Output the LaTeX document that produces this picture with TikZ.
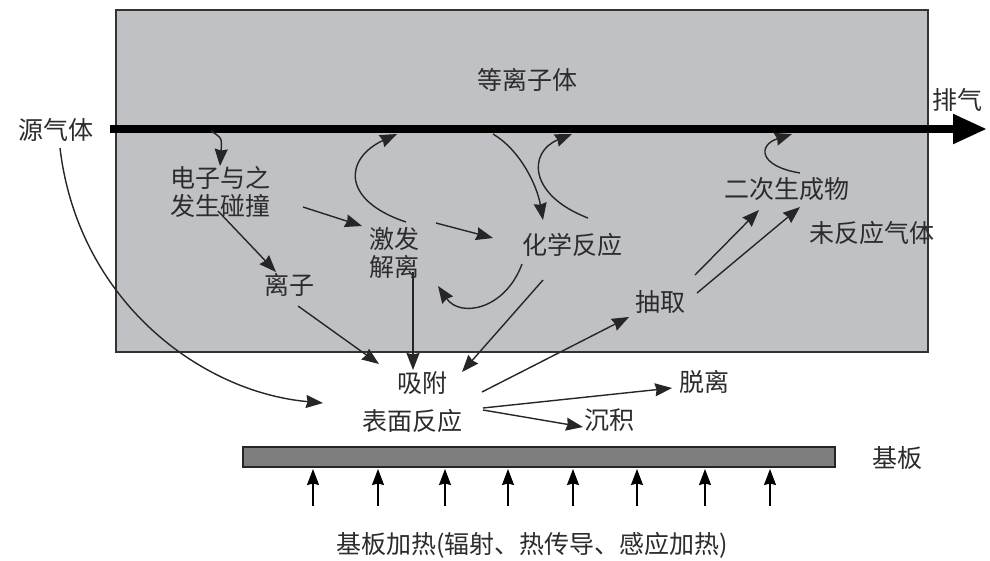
\documentclass[tikz,border=0pt]{standalone}
\usepackage{fontspec}
\setmainfont{Noto Sans CJK SC}
\usetikzlibrary{arrows.meta}
\definecolor{txt}{HTML}{2C2C2C}
\definecolor{chamberfill}{HTML}{C0C1C5}
\definecolor{subfill}{HTML}{7E7E7E}
\begin{document}
\begin{tikzpicture}[x=1pt,y=-1pt,
 lbl/.style={text=txt,inner sep=0pt,font=\fontsize{25}{28}\selectfont,align=center},
 arr/.style={line width=1.4pt,draw=black!85,-{Stealth[length=17pt,width=13pt,inset=1.5pt]}},
 flow/.style={line width=8pt,draw=black,-{Triangle[length=34pt,width=28pt]}},
 heatarr/.style={line width=1.4pt,draw=black,-{Stealth[length=16pt,width=12pt,inset=1.5pt]}}]
\path[use as bounding box] (0,0) rectangle (990,560);
\fill[white] (0,0) rectangle (990,560);
% chamber
\draw[line width=1.2pt,draw=black!80,fill=chamberfill] (116,10) rectangle (928,352);
% substrate
\draw[line width=1.2pt,draw=black!85,fill=subfill] (243,447) rectangle (835,467);

% labels
\node[lbl] (plasma) at (527,80) {等离子体};
\node[lbl] (src) at (56,130) {源气体};
\node[lbl] (exh) at (957,100) {排气};
\node[lbl] (coll) at (220,192) {电子与之\\发生碰撞};
\node[lbl] (ion) at (289,285) {离子};
\node[lbl] (exc) at (394,253) {激发\\解离};
\node[lbl] (chem) at (572,245) {化学反应};
\node[lbl] (sec) at (787,189) {二次生成物};
\node[lbl] (unr) at (872,233) {未反应气体};
\node[lbl] (extr) at (660,302) {抽取};
\node[lbl] (ads) at (422,383) {吸附};
\node[lbl] (surf) at (412,421) {表面反应};
\node[lbl] (des) at (704,382) {脱离};
\node[lbl] (dep) at (609,420) {沉积};
\node[lbl] (sub) at (897,458) {基板};
\node[lbl] (heat) at (532,545) {基板加热(辐射、热传导、感应加热)};

% main gas flow
\coordinate (fin) at (110,129);
\coordinate (fout) at (987,129);
\draw[flow] (fin) -- (fout);

% endpoints
\coordinate (g1) at (211,131);
\coordinate (c1) at (220,166);
\coordinate (c2a) at (218,211);
\coordinate (c2b) at (276,272);
\coordinate (c3a) at (303,207);
\coordinate (c3b) at (362,226);
\coordinate (c4a) at (298,306);
\coordinate (c4b) at (379,364);
\coordinate (c5a) at (413,272);
\coordinate (c5b) at (413,370);
\coordinate (c6a) at (406,222);
\coordinate (c6b) at (397,134);
\coordinate (c7a) at (436,223);
\coordinate (c7b) at (493,238);
\coordinate (c8a) at (493,134);
\coordinate (c8b) at (543,220);
\coordinate (c9a) at (588,218);
\coordinate (c9b) at (572,134);
\coordinate (c10a) at (522,264);
\coordinate (c10b) at (438,286);
\coordinate (c11a) at (543,280);
\coordinate (c11b) at (462,372);
\coordinate (c12a) at (482,392);
\coordinate (c12b) at (629,317);
\coordinate (c13a) at (695,275);
\coordinate (c13b) at (759,210);
\coordinate (c14a) at (697,293);
\coordinate (c14b) at (800,207);
\coordinate (c15a) at (800,173);
\coordinate (c15b) at (792,134);
\coordinate (c16a) at (483,408);
\coordinate (c16b) at (672,388);
\coordinate (c17a) at (483,410);
\coordinate (c17b) at (583,427);
\coordinate (c18a) at (60,148);
\coordinate (c18b) at (323,403);

\draw[arr] (g1) .. controls (222,138) .. (c1);
\draw[arr] (c2a) -- (c2b);
\draw[arr] (c3a) -- (c3b);
\draw[arr] (c4a) -- (c4b);
\draw[arr] (c5a) -- (c5b);
\draw[arr] (c6a) .. controls (340,200) and (345,158) .. (c6b);
\draw[arr] (c7a) -- (c7b);
\draw[arr] (c8a) .. controls (520,150) and (537,185) .. (c8b);
\draw[arr] (c9a) .. controls (528,195) and (528,152) .. (c9b);
\draw[arr] (c10a) .. controls (505,310) and (460,318) .. (c10b);
\draw[arr] (c11a) -- (c11b);
\draw[arr] (c12a) -- (c12b);
\draw[arr] (c13a) -- (c13b);
\draw[arr] (c14a) -- (c14b);
\draw[arr] (c15a) .. controls (758,166) and (758,145) .. (c15b);
\draw[arr] (c16a) -- (c16b);
\draw[arr] (c17a) -- (c17b);
\draw[arr] (c18a) .. controls (78,300) and (200,392) .. (c18b);

% heating arrows
\foreach \i/\x in {1/313,2/378,3/445,4/508,5/573,6/637,7/705,8/770}{
  \coordinate (h\i a) at (\x,506);
  \coordinate (h\i b) at (\x,469);
  \draw[heatarr] (h\i a) -- (h\i b);
}
\end{tikzpicture}
\end{document}
